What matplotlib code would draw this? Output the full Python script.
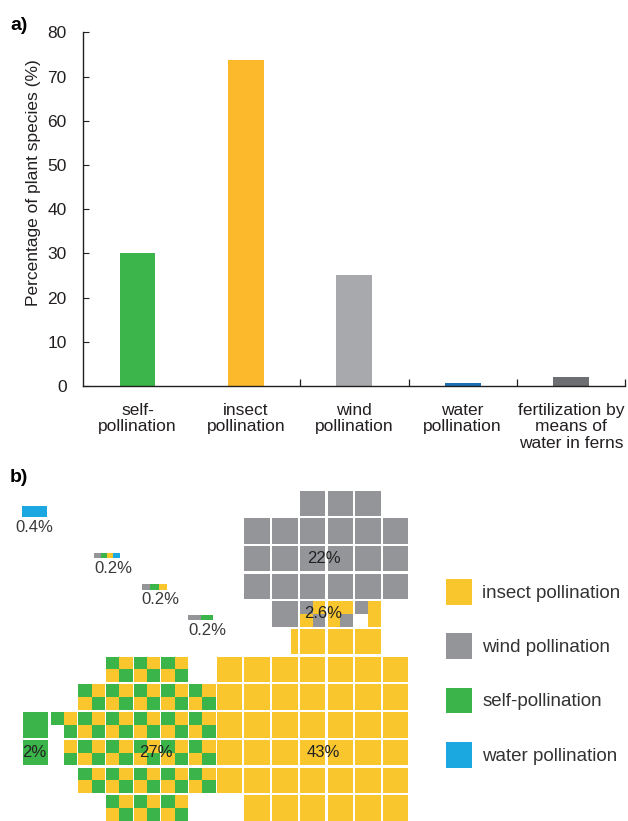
import numpy as np
import matplotlib
matplotlib.use('Agg')
import matplotlib.pyplot as plt
from matplotlib.patches import Rectangle

plt.rcParams['font.family'] = ['Liberation Sans', 'DejaVu Sans']

# ---- panel a data ----
categories = ['self-\npollination', 'insect\npollination', 'wind\npollination',
              'water\npollination', 'fertilization by\nmeans of\nwater in ferns']
percent = [30, 73.7, 25, 0.7, 2.1]
bar_colors = ['#3cb54a', '#fdb92c', '#a7a9ac', '#1b6fb5', '#6d6e71']

# ---- panel b data ----
# one character per 1% cell, rows top to bottom, columns -7 .. 6
waffle_rows = [
    '..........WWW.',
    '........WWWWWW',
    '........WWWWWW',
    '........WWWWWW',
    '.........Wpqr.',
    '.........sYYY.',
    '...CCC.YYYYYYY',
    '..CCCCCYYYYYYY',
    'GaCCCCCYYYYYYY',
    'GbCCCCCYYYYYYY',
    '..CCCCCYYYYYYY',
    '...CCC..YYYYYY',
]
first_row = -6
first_col = -7

# sub-cell patterns (k x k, read row by row), '.' = empty
cell_patterns = {
    'Y': 'Y', 'W': 'W', 'G': 'G',
    'C': 'GYYG',
    'a': 'GY.G',
    'b': '.Y.G',
    'p': 'WYYW',
    'q': 'YYYW',
    'r': 'WY.Y',
    's': '...Y...Y...Y...Y',
}
checker_codes = 'Cab'
waffle_colors = {'Y': '#f9c62e', 'W': '#939598', 'G': '#3bb44a', 'B': '#1ba8e0'}

cell_labels = ['22%', '2.6%', '43%', '27%', '2%']
cell_label_pos = [(3.86, -3.53), (3.86, -1.56), (3.86, 3.47), (-2.18, 3.47), (-6.57, 3.47)]

small_labels = ['0.4%', '0.2%', '0.2%', '0.2%']
small_colors = ['B', 'WGYB', 'WGY', 'WG']
small_height = [0.4, 0.2, 0.2, 0.2]
small_pos = [(-7.04, -5.44), (-4.42, -3.75), (-2.71, -2.62), (-1.04, -1.52)]

legend_labels = ['insect pollination', 'wind pollination', 'self-pollination', 'water pollination']
legend_keys = ['Y', 'W', 'G', 'B']

W, H = 628, 821
fig = plt.figure(figsize=(W / 100, H / 100), dpi=100)

# ================= panel a =================
ax = fig.add_axes([83.3 / W, 1 - 386 / H, 542 / W, 353.7 / H])
x = np.arange(len(categories))
ax.bar(x, percent, width=0.33, color=bar_colors)
ax.set_xlim(-0.5, len(categories) - 0.5)
ax.set_ylim(0, 80)
ax.set_yticks(range(0, 81, 10))
ax.set_xticks(x)
ax.set_xticklabels(categories, fontsize=12.5, color='#231f20', linespacing=1.15)
ax.set_xticks(x[1:] + 0.5, minor=True)
ax.tick_params(axis='x', which='major', length=0, pad=12)
ax.tick_params(axis='x', which='minor', direction='in', length=5, width=0.9, color='#231f20')
ax.tick_params(axis='y', direction='in', length=4, width=0.8, pad=12,
               labelsize=12.5, labelcolor='#231f20', color='#231f20')
for s in ['top', 'right']:
    ax.spines[s].set_visible(False)
for s in ['left', 'bottom']:
    ax.spines[s].set_linewidth(1.0)
    ax.spines[s].set_color('#231f20')
ax.set_ylabel('Percentage of plant species (%)', fontsize=12.5, color='#231f20')
ax.yaxis.set_label_coords(-0.078, 0.574)
fig.text(10 / W, 1 - 25 / H, 'a)', fontsize=14, fontweight='bold', va='center', ha='left')

# ================= panel b =================
bx = fig.add_axes([0, 0, 1, 351 / H])
p = 27.7
bx.set_xlim(-216.7 / p, (W - 216.7) / p)
bx.set_ylim((H - 656.7) / p, (470 - 656.7) / p)
bx.axis('off')
size = 0.92

for i, row in enumerate(waffle_rows):
    r = first_row + i
    for j, code in enumerate(row):
        if code == '.':
            continue
        c = first_col + j
        pat = cell_patterns[code]
        k = int(round(len(pat) ** 0.5))
        cw = 0.97 if code in checker_codes else size
        hw, hh = cw / k, size / k
        for n, key in enumerate(pat):
            if key == '.':
                continue
            qy, qx = divmod(n, k)
            bx.add_patch(Rectangle((c + qx * hw, r + qy * hh), hw, hh,
                                   facecolor=waffle_colors[key], edgecolor='none'))

for lab, (cx, cy) in zip(cell_labels, cell_label_pos):
    bx.text(cx, cy, lab, fontsize=12, ha='center', va='center', color='#222222')

for lab, cols, hh, (sx, sy) in zip(small_labels, small_colors, small_height, small_pos):
    w = size / len(cols)
    for n, key in enumerate(cols):
        bx.add_patch(Rectangle((sx + n * w, sy), w, hh,
                               facecolor=waffle_colors[key], edgecolor='none'))
    if len(cols) == 1:
        bx.text(sx + size / 2, sy + hh + 0.38, lab, fontsize=12, ha='center', va='center',
                color='#3a3a3a')
    else:
        bx.text(sx, sy + hh + 0.36, lab, fontsize=12, ha='left', va='center',
                color='#3a3a3a')

for i, (lab, key) in enumerate(zip(legend_labels, legend_keys)):
    top = -2.8 + i * 1.96
    bx.add_patch(Rectangle((8.28, top), size, size, facecolor=waffle_colors[key],
                           edgecolor='none'))
    bx.text(9.58, top + size / 2 + 0.05, lab, fontsize=13.5, ha='left', va='center',
            color='#333333')

fig.text(10 / W, 1 - 477 / H, 'b)', fontsize=14, fontweight='bold', va='center', ha='left')

fig.savefig('out.png', dpi=100)
